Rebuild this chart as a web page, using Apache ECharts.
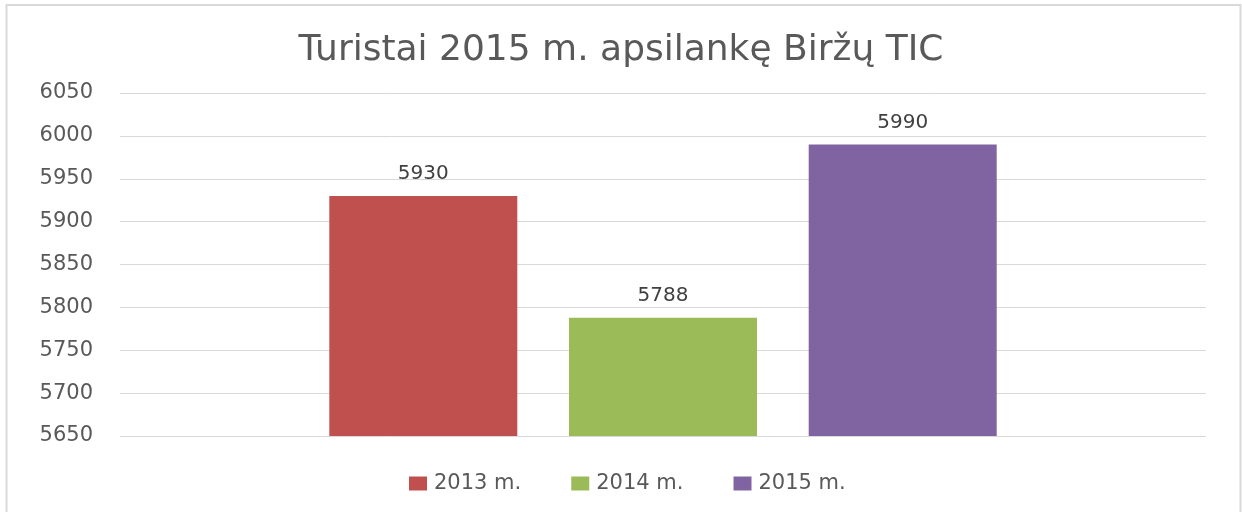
<!DOCTYPE html>
<html>
<head>
<meta charset="utf-8">
<script src="https://cdn.jsdelivr.net/npm/echarts@6/dist/echarts.min.js"></script>
<style>
html,body{margin:0;padding:0;background:#fff;}
#chart{width:1242px;height:512px;}
</style>
</head>
<body>
<div id="chart"></div>
<script>
var titleText = 'Turistai 2015 m. apsilankę Biržų TIC';
var categories = [''];
var seriesNames = ['2013 m.', '2014 m.', '2015 m.'];
var seriesValues = [[5930], [5788], [5990]];
var seriesColors = ['#C0504D', '#9BBB59', '#8064A2'];
var yMin = 5650, yMax = 6050, yInterval = 50;

var chart = echarts.init(document.getElementById('chart'));
var FONT = 'DejaVu Sans';
var series = seriesNames.map(function (name, i) {
  return {
    name: name,
    type: 'bar',
    data: seriesValues[i],
    barWidth: 188,
    barGap: '27.5%',
    itemStyle: { color: seriesColors[i] },
    label: {
      show: true,
      position: 'top',
      distance: 12,
      color: '#404040',
      fontFamily: FONT,
      fontSize: 20
    }
  };
});

chart.setOption({
  animation: false,
  backgroundColor: '#ffffff',
  title: {
    text: titleText,
    left: 'center',
    top: 28,
    textStyle: { fontFamily: FONT, fontSize: 36, fontWeight: 'normal', color: '#595959' }
  },
  legend: {
    data: seriesNames,
    left: 404,
    top: 468,
    itemWidth: 18,
    itemHeight: 14,
    itemGap: 50,
    icon: 'rect',
    textStyle: { fontFamily: FONT, fontSize: 21, color: '#595959', padding: [0, 0, 0, 2] }
  },
  grid: { left: 120, right: 36, top: 93, bottom: 76, containLabel: false },
  xAxis: {
    type: 'category',
    data: categories,
    axisLine: { show: false },
    axisTick: { show: false },
    axisLabel: { show: false }
  },
  yAxis: {
    type: 'value',
    min: yMin,
    max: yMax,
    interval: yInterval,
    axisLine: { show: false },
    axisTick: { show: false },
    axisLabel: {
      margin: 27, color: '#595959', fontFamily: FONT, fontSize: 21,
      formatter: function (v) { return String(v); }
    },
    splitLine: { lineStyle: { color: '#d9d9d9', width: 1 } }
  },
  graphic: [{
    type: 'rect',
    shape: { x: 6.5, y: 5, width: 1234, height: 600 },
    style: { fill: 'none', stroke: '#d9d9d9', lineWidth: 2 },
    silent: true
  }],
  series: series
});
</script>
</body>
</html>
